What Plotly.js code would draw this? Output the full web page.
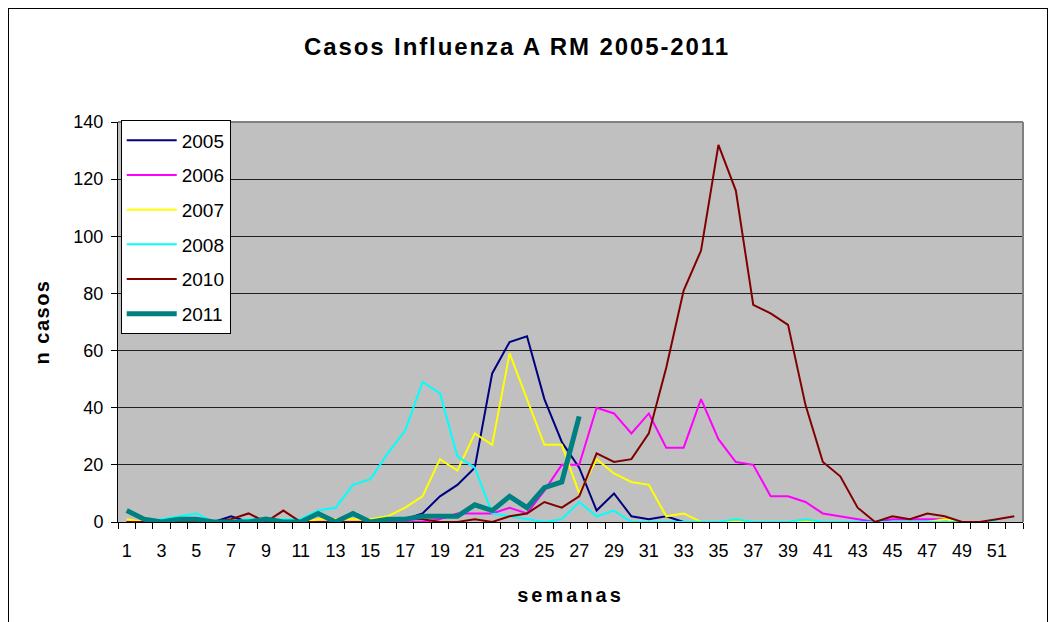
<!DOCTYPE html>
<html>
<head>
<meta charset="utf-8">
<script src="https://cdn.plot.ly/plotly-3.0.1.min.js"></script>
<style>
  html, body { margin: 0; padding: 0; background: #fff; overflow: hidden; }
  #chart { position: absolute; left: 0; top: 0; width: 1055px; height: 622px; }
  #frame { position: absolute; left: 8px; top: 8px; width: 1038px; height: 700px; border: 1px solid #000; pointer-events: none; }
</style>
</head>
<body>
<div id="chart"></div>
<div id="frame"></div>
<script>
// Weeks (semanas)
const weeks52 = Array.from({length: 52}, (_, i) => i + 1);
const tickWeeks = [1,3,5,7,9,11,13,15,17,19,21,23,25,27,29,31,33,35,37,39,41,43,45,47,49,51];
const yTicks = [0,20,40,60,80,100,120,140];

// Series values (cases per week)
const y2005 = [0,0,0,0,0,0,2,0,0,0,0,0,0,0,0,0,1,3,9,13,19,52,63,65,43,28,19,4,10,2,1,2,0,0,0,0,0,0,0,0,0,0,0,0,0,0,0,0,0,0,0];
const y2006 = [0,0,0,0,0,0,0,0,0,0,0,0,0,0,0,0,0,0,1,3,3,3,5,3,11,20,20,40,38,31,38,26,26,43,29,21,20,9,9,7,3,2,1,0,1,1,1,1,0,0,0];
const y2007 = [1,0,0,0,0,0,0,0,1,1,0,1,1,1,1,2,5,9,22,18,31,27,59,43,27,27,10,22,17,14,13,2,3,0,0,0,0,0,0,0,0,0,0,0,0,0,0,1,0,0,0];
const y2008 = [0,0,1,2,3,0,0,1,1,1,1,4,5,13,15,24,32,49,45,23,19,3,2,1,0,1,7,2,4,0,0,0,0,0,0,1,0,0,0,1,0,0,0,0,0,0,0,0,0,0,0];
const y2010 = [0,0,0,0,0,0,1,3,0,4,0,0,0,0,0,1,1,1,0,0,1,0,2,3,7,5,9,24,21,22,31,54,81,95,132,116,76,73,69,41,21,16,5,0,2,1,3,2,0,0,1,2];
const y2011 = [4,1,0,1,1,0,0,0,1,0,0,3,0,3,0,1,1,2,2,2,6,4,9,5,12,14,37];

const seriesNames  = ['2005','2006','2007','2008','2010','2011'];
const seriesValues = [y2005, y2006, y2007, y2008, y2010, y2011];
const seriesColors = ['#000080','#FF00FF','#FFFF00','#00FFFF','#800000','#008080'];
const seriesWidths = [2,2,2,2,2,5];

const FONT = 'Liberation Sans, Arial, sans-serif';

const traces = seriesNames.map((name, k) => ({
  type: 'scatter',
  mode: 'lines',
  name: name,
  legendgroup: name,
  x: weeks52.slice(0, seriesValues[k].length),
  y: seriesValues[k],
  line: {color: seriesColors[k], width: seriesWidths[k], shape: 'linear'},
  hoverinfo: 'x+y+name'
}));

const halfTicks = Array.from({length: 53}, (_, i) => i + 0.5);

const layout = {
  width: 1055, height: 622,
  margin: {l: 118, r: 32, t: 122, b: 100, pad: 0},
  paper_bgcolor: '#ffffff',
  plot_bgcolor: '#C0C0C0',
  font: {family: FONT, size: 18, color: '#000'},
  title: {
    text: '<span style="letter-spacing:1.9px"><b>Casos Influenza A RM 2005-2011</b></span>',
    font: {family: FONT, size: 24, color: '#000'},
    x: 517/1055, xref: 'container', xanchor: 'center',
    y: 1 - 47/622, yref: 'container', yanchor: 'middle'
  },
  xaxis: {
    range: [0.5, 52.5],
    tickmode: 'array',
    tickvals: tickWeeks,
    ticktext: tickWeeks.map(String),
    ticks: '',
    ticklabelstandoff: 12,
    showgrid: false,
    zeroline: false,
    showline: true, linecolor: '#000', linewidth: 1,
    tickfont: {family: FONT, size: 18, color: '#000'},
    minor: {tickmode: 'array', tickvals: halfTicks, ticks: 'outside', ticklen: 6, tickcolor: '#000', tickwidth: 1, showgrid: false},
    title: {text: '<span style="letter-spacing:3px"><b>semanas</b></span>', font: {family: FONT, size: 20, color: '#000'}, standoff: 28},
    fixedrange: true
  },
  yaxis: {
    range: [0, 140],
    tickmode: 'array',
    tickvals: yTicks,
    ticktext: yTicks.map(String),
    ticks: 'outside', ticklen: 6, tickcolor: '#000',
    ticklabelstandoff: 4,
    showgrid: true, gridcolor: '#202020', gridwidth: 1,
    zeroline: false,
    showline: true, linecolor: '#000', linewidth: 1,
    tickfont: {family: FONT, size: 18, color: '#000'},
    title: {text: '<span style="letter-spacing:1.5px"><b>n casos</b></span>', font: {family: FONT, size: 20, color: '#000'}, standoff: 18},
    fixedrange: true
  },
  shapes: [
    {type: 'line', xref: 'paper', yref: 'paper', x0: 0, x1: 1, y0: 1, y1: 1, line: {color: '#808080', width: 2}},
    {type: 'line', xref: 'paper', yref: 'paper', x0: 1, x1: 1, y0: 0, y1: 1, line: {color: '#808080', width: 2}}
  ],
  showlegend: true,
  legend: {
    x: 0.003, y: 1.004, xanchor: 'left', yanchor: 'top',
    bgcolor: '#ffffff', bordercolor: '#000', borderwidth: 1,
    font: {family: FONT, size: 19, color: '#000'},
    traceorder: 'grouped', tracegroupgap: 7,
    itemwidth: 50
  }
};

Plotly.newPlot('chart', traces, layout, {displayModeBar: false, staticPlot: true});
</script>
</body>
</html>
